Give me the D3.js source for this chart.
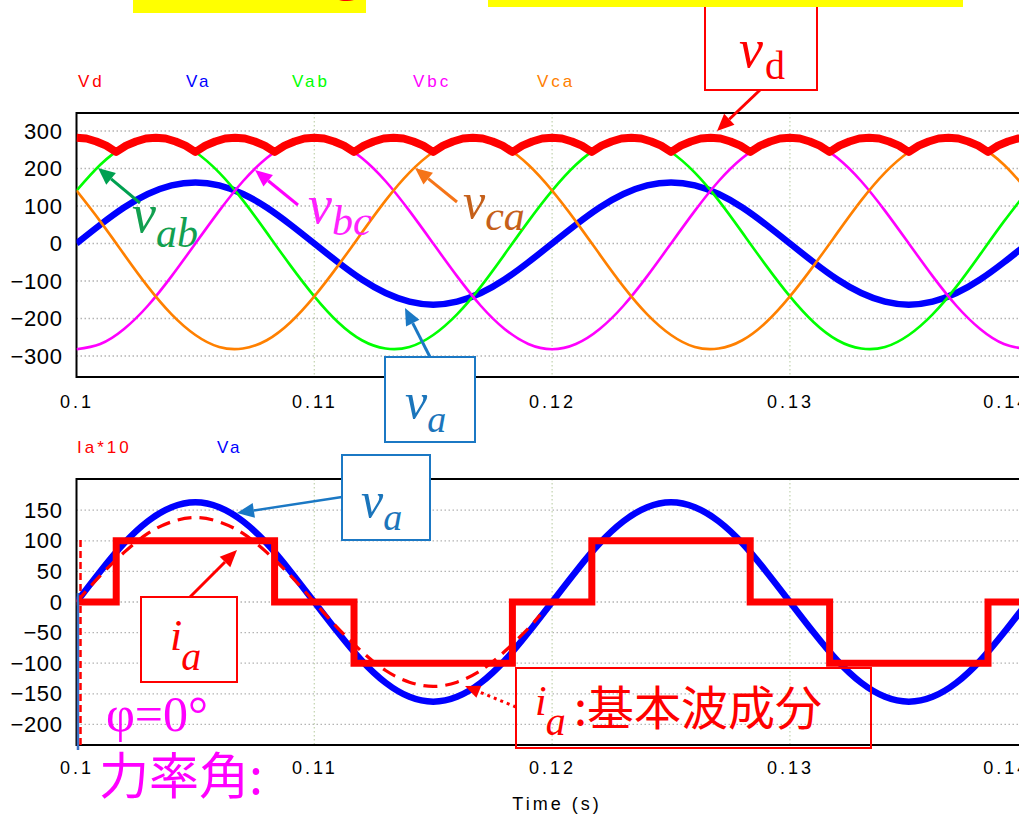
<!DOCTYPE html>
<html>
<head>
<meta charset="utf-8">
<script src="https://cdn.jsdelivr.net/npm/d3@7"></script>
<style>
  body { margin: 0; background: #fff; }
  svg { display: block; }
</style>
</head>
<body>
<svg id="chart" width="1019" height="817"></svg>
<script>
// ---------- data ----------
// 1 ms sampling grid, 0.100 s .. 0.140 s
const sampleTimes = d3.range(41).map(i => 0.1 + i * 0.001);

// phase voltage Va [V]
const vaValues = [0, 50, 96, 132, 155, 163, 155, 132, 96, 50,
                  0, -50, -96, -132, -155, -163, -155, -132, -96, -50,
                  0, 50, 96, 132, 155, 163, 155, 132, 96, 50,
                  0, -50, -96, -132, -155, -163, -155, -132, -96, -50, 0];
// line voltages [V]
const vabValues = [141, 210, 258, 280, 276, 244, 189, 115, 29, -59,
                   -141, -210, -258, -280, -276, -244, -189, -115, -29, 59,
                   141, 210, 258, 280, 276, 244, 189, 115, 29, -59,
                   -141, -210, -258, -280, -276, -244, -189, -115, -29, 59, 141];
const vbcValues = [-282, -268, -228, -166, -87, 0, 87, 166, 228, 268,
                   282, 268, 228, 166, 87, 0, -87, -166, -228, -268,
                   -282, -268, -228, -166, -87, 0, 87, 166, 228, 268,
                   282, 268, 228, 166, 87, 0, -87, -166, -228, -268, -282];
const vcaValues = [141, 59, -29, -115, -189, -244, -276, -280, -258, -210,
                   -141, -59, 29, 115, 189, 244, 276, 280, 258, 210,
                   141, 59, -29, -115, -189, -244, -276, -280, -258, -210,
                   -141, -59, 29, 115, 189, 244, 276, 280, 258, 210, 141];

// rectified DC voltage Vd, sampled every 7.5 electrical degrees
const vdTimes = d3.range(97).map(i => 0.1 + i * 0.02 / 48);
const vdValues = [
  282, 280, 272, 261, 244, 261, 272, 280,
  282, 280, 272, 261, 244, 261, 272, 280,
  282, 280, 272, 261, 244, 261, 272, 280,
  282, 280, 272, 261, 244, 261, 272, 280,
  282, 280, 272, 261, 244, 261, 272, 280,
  282, 280, 272, 261, 244, 261, 272, 280,
  282, 280, 272, 261, 244, 261, 272, 280,
  282, 280, 272, 261, 244, 261, 272, 280,
  282, 280, 272, 261, 244, 261, 272, 280,
  282, 280, 272, 261, 244, 261, 272, 280,
  282, 280, 272, 261, 244, 261, 272, 280,
  282, 280, 272, 261, 244, 261, 272, 280,
  282];

// line current Ia*10 (120-degree blocks), step changes
const iaTimes  = [0.1, 0.10167, 0.10833, 0.11167, 0.11833, 0.12167, 0.12833, 0.13167, 0.13833, 0.1415];
const iaValues = [0, 100, 0, -100, 0, 100, 0, -100, 0, 0];

// fundamental component of ia (first cycle)
const fundTimes  = [0.1, 0.101, 0.102, 0.103, 0.104, 0.105, 0.106, 0.107, 0.108, 0.109,
                    0.110, 0.111, 0.112, 0.113, 0.114, 0.115, 0.116, 0.117, 0.118, 0.119, 0.1195];
const fundValues = [0, 43, 81, 112, 131, 138, 131, 112, 81, 43,
                    0, -43, -81, -112, -131, -138, -131, -112, -81, -43, -21];

const timeTicks = [0.1, 0.11, 0.12, 0.13, 0.14];
const topTicks  = [300, 200, 100, 0, -100, -200, -300];
const botTicks  = [150, 100, 50, 0, -50, -100, -150, -200];

// ---------- layout ----------
const svg = d3.select('#chart');
svg.append('rect').attr('width', 1019).attr('height', 817).attr('fill', '#fff');

const X0 = 76.5, X1 = 1063.4;
const topBox = {y0: 113, y1: 377};
const botBox = {y0: 479, y1: 745};

const xTop = d3.scaleLinear().domain([0.1, 0.1415]).range([X0, X1]);
const xBot = d3.scaleLinear().domain([0.1, 0.1415]).range([X0, X1]);
const yTop = d3.scaleLinear().domain([-356, 348]).range([topBox.y1, topBox.y0]);
const yBot = d3.scaleLinear().domain([-233.7, 201]).range([botBox.y1, botBox.y0]);

const defs = svg.append('defs');
defs.append('clipPath').attr('id', 'clipTop').append('rect')
  .attr('x', X0).attr('y', topBox.y0).attr('width', X1 - X0).attr('height', topBox.y1 - topBox.y0);
defs.append('clipPath').attr('id', 'clipBot').append('rect')
  .attr('x', X0).attr('y', botBox.y0).attr('width', X1 - X0).attr('height', botBox.y1 - botBox.y0);

const sans = "'Liberation Sans', Arial, sans-serif";
const serif = "'Liberation Serif', 'Times New Roman', serif";
const cjk = "'Noto Sans CJK JP', 'Noto Sans CJK SC', sans-serif";

function panel(x, y, box, yTicks, clipId, labelPad) {
  const g = svg.append('g');
  // horizontal dotted grid
  g.selectAll('line.hg').data(yTicks).join('line')
    .attr('x1', X0).attr('x2', X1).attr('y1', d => y(d)).attr('y2', d => y(d))
    .attr('stroke', '#b4b4b4').attr('stroke-width', 1.3).attr('stroke-dasharray', '1.5,2.5');
  // vertical dotted grid
  g.selectAll('line.vg').data(timeTicks.slice(1)).join('line')
    .attr('x1', d => x(d)).attr('x2', d => x(d)).attr('y1', box.y0).attr('y2', box.y1)
    .attr('stroke', '#c6d6b4').attr('stroke-width', 1.3).attr('stroke-dasharray', '1.5,2.5');
  // frame
  g.append('rect').attr('x', X0).attr('y', box.y0).attr('width', X1 - X0).attr('height', box.y1 - box.y0)
    .attr('fill', 'none').attr('stroke', '#000').attr('stroke-width', 2);

  const ya = svg.append('g').attr('transform', `translate(${X0},0)`)
    .call(d3.axisLeft(y).tickValues(yTicks).tickSize(0).tickPadding(14));
  ya.select('.domain').remove();
  ya.selectAll('text').attr('font-family', sans).attr('font-size', 22).attr('fill', '#000')
    .attr('letter-spacing', '0.6px');

  const xa = svg.append('g').attr('transform', `translate(0,${box.y1})`)
    .call(d3.axisBottom(x).tickValues(timeTicks).tickSize(0).tickPadding(labelPad)
      .tickFormat(d => String(+d.toFixed(2))));
  xa.select('.domain').remove();
  xa.selectAll('text').attr('font-family', sans).attr('font-size', 18).attr('fill', '#000')
    .attr('letter-spacing', '3px');
  // the last label sits flush against the plot's right end
  xa.selectAll('.tick').filter(d => d === 0.14).select('text')
    .attr('text-anchor', 'end').attr('x', 2);

  return svg.append('g').attr('clip-path', `url(#${clipId})`);
}

// ---------- top panel: voltages ----------
const pTop = panel(xTop, yTop, topBox, topTicks, 'clipTop', 18);
const lineTop = (ts, vs, curve) => d3.line()
  .x((d, i) => xTop(ts[i])).y(d => yTop(d)).curve(curve)(vs);

pTop.append('path').attr('d', lineTop(sampleTimes, vaValues, d3.curveNatural))
  .attr('fill', 'none').attr('stroke', '#0000ff').attr('stroke-width', 6.5);
pTop.append('path').attr('d', lineTop(sampleTimes, vabValues, d3.curveNatural))
  .attr('fill', 'none').attr('stroke', '#00ff00').attr('stroke-width', 2.6);
pTop.append('path').attr('d', lineTop(sampleTimes, vbcValues, d3.curveNatural))
  .attr('fill', 'none').attr('stroke', '#ff00ff').attr('stroke-width', 2.6);
pTop.append('path').attr('d', lineTop(sampleTimes, vcaValues, d3.curveNatural))
  .attr('fill', 'none').attr('stroke', '#ff8000').attr('stroke-width', 2.6);
pTop.append('path').attr('d', lineTop(vdTimes, vdValues, d3.curveLinear))
  .attr('fill', 'none').attr('stroke', '#ff0000').attr('stroke-width', 8).attr('stroke-linejoin', 'round');

// top legend
const topLegend = [
  {name: 'Vd', color: '#ff0000', x: 78},
  {name: 'Va', color: '#0000ff', x: 186},
  {name: 'Vab', color: '#00ff00', x: 292},
  {name: 'Vbc', color: '#ff00ff', x: 413},
  {name: 'Vca', color: '#ff8000', x: 537}
];
svg.selectAll('text.lgTop').data(topLegend).join('text')
  .attr('x', d => d.x).attr('y', 87).text(d => d.name)
  .attr('fill', d => d.color).attr('font-family', sans).attr('font-size', 17)
  .attr('letter-spacing', '3px');

// ---------- bottom panel: current and phase voltage ----------
const pBot = panel(xBot, yBot, botBox, botTicks, 'clipBot', 16);
const lineBot = (ts, vs, curve) => d3.line()
  .x((d, i) => xBot(ts[i])).y(d => yBot(d)).curve(curve)(vs);

pBot.append('path').attr('d', lineBot(sampleTimes, vaValues, d3.curveNatural))
  .attr('fill', 'none').attr('stroke', '#0000ff').attr('stroke-width', 6.5);
pBot.append('path').attr('d', lineBot(iaTimes, iaValues, d3.curveStepAfter))
  .attr('fill', 'none').attr('stroke', '#ff0000').attr('stroke-width', 7).attr('stroke-linejoin', 'miter');
pBot.append('path').attr('d', lineBot(fundTimes, fundValues, d3.curveNatural))
  .attr('fill', 'none').attr('stroke', '#ff0000').attr('stroke-width', 3.2)
  .attr('stroke-dasharray', '14,8');

const botLegend = [
  {name: 'Ia*10', color: '#ff0000', x: 77},
  {name: 'Va', color: '#0000ff', x: 217}
];
svg.selectAll('text.lgBot').data(botLegend).join('text')
  .attr('x', d => d.x).attr('y', 453).text(d => d.name)
  .attr('fill', d => d.color).attr('font-family', sans).attr('font-size', 17)
  .attr('letter-spacing', '3px');

svg.append('text').attr('x', 557).attr('y', 810).attr('text-anchor', 'middle')
  .attr('font-family', sans).attr('font-size', 18).attr('letter-spacing', '3px')
  .text('Time (s)');

// phase-angle markers at t = 0.1
svg.append('line').attr('x1', 78).attr('x2', 78).attr('y1', 593).attr('y2', 750)
  .attr('stroke', '#3a6fc4').attr('stroke-width', 2.5);
svg.append('line').attr('x1', 80.5).attr('x2', 80.5).attr('y1', 540).attr('y2', 745)
  .attr('stroke', '#ff0000').attr('stroke-width', 2.5).attr('stroke-dasharray', '7,4');

// ---------- annotations ----------
function arrow(x1, y1, x2, y2, color, opts = {}) {
  const w = opts.width || 3, hl = opts.head || 17, hw = opts.headW || 14;
  const ang = Math.atan2(y2 - y1, x2 - x1);
  const bx = x2 - hl * Math.cos(ang), by = y2 - hl * Math.sin(ang);
  svg.append('line').attr('x1', x1).attr('y1', y1).attr('x2', bx).attr('y2', by)
    .attr('stroke', color).attr('stroke-width', w)
    .attr('stroke-dasharray', opts.dash || null);
  const px = -Math.sin(ang) * hw / 2, py = Math.cos(ang) * hw / 2;
  svg.append('path')
    .attr('d', `M${x2},${y2}L${bx + px},${by + py}L${bx - px},${by - py}Z`)
    .attr('fill', color);
}

function symbol(x, y, main, sub, color, o = {}) {
  const t = svg.append('text').attr('x', x).attr('y', y).attr('fill', color)
    .attr('font-family', serif);
  t.append('tspan').attr('font-style', 'italic').attr('font-size', o.mainSize || 52).text(main);
  t.append('tspan').attr('font-style', o.subUpright ? 'normal' : 'italic')
    .attr('font-size', o.subSize || 40).attr('dy', o.subDy || 14)
    .attr('dx', o.subDx || 0).text(sub);
  return t;
}

// title banners
svg.append('rect').attr('x', 133).attr('y', 0).attr('width', 233).attr('height', 13).attr('fill', '#ffff00');
svg.append('text').attr('x', 349).attr('y', -9).attr('text-anchor', 'middle')
  .attr('font-family', "'DejaVu Sans', sans-serif").attr('font-weight', 'bold')
  .attr('font-size', 46).attr('fill', '#ff0000').text('g');

// vd label
svg.append('rect').attr('x', 705).attr('y', 6).attr('width', 112).attr('height', 84)
  .attr('fill', '#fff').attr('stroke', '#ff0000').attr('stroke-width', 2);
svg.append('rect').attr('x', 488).attr('y', 0).attr('width', 475).attr('height', 7).attr('fill', '#ffff00');
symbol(739, 67, 'v', 'd', '#ff0000', {mainSize: 54, subSize: 40, subDy: 12, subUpright: true, subDx: 2});
arrow(760, 90, 717, 131, '#ff0000', {width: 3, head: 17, headW: 15});

// line-voltage labels
arrow(140, 203, 98, 168, '#00a050', {width: 3, head: 17, headW: 15});
symbol(132, 232, 'v', 'ab', '#12a050', {mainSize: 54, subSize: 42, subDy: 15});

arrow(298, 205, 255, 170, '#ff00ff', {width: 3, head: 17, headW: 15});
symbol(308, 223, 'v', 'bc', '#ff22ff', {mainSize: 54, subSize: 42, subDy: 12});

arrow(457, 202, 415, 168, '#f57418', {width: 3, head: 17, headW: 15});
symbol(463, 218, 'v', 'ca', '#c5601a', {mainSize: 50, subSize: 42, subDy: 12});

// va label (top panel)
arrow(430, 357, 405, 308, '#1b78c4', {width: 3, head: 17, headW: 15});
svg.append('rect').attr('x', 385).attr('y', 357).attr('width', 90).attr('height', 85)
  .attr('fill', '#fff').attr('stroke', '#1b78c4').attr('stroke-width', 2);
symbol(405, 418, 'v', 'a', '#1b75bb', {mainSize: 50, subSize: 38, subDy: 14});

// va label (bottom panel)
arrow(342, 497, 237, 513, '#1b78c4', {width: 2.5, head: 17, headW: 15});
svg.append('rect').attr('x', 342).attr('y', 455).attr('width', 88).attr('height', 85)
  .attr('fill', '#fff').attr('stroke', '#1b78c4').attr('stroke-width', 2);
symbol(361, 517, 'v', 'a', '#1b75bb', {mainSize: 50, subSize: 38, subDy: 13});

// ia label
arrow(190, 597, 237, 550, '#ff0000', {width: 3, head: 17, headW: 15});
svg.append('rect').attr('x', 141).attr('y', 597).attr('width', 96).attr('height', 85)
  .attr('fill', '#fff').attr('stroke', '#ff0000').attr('stroke-width', 2);
symbol(170, 650, 'i', 'a', '#ff0000', {mainSize: 44, subSize: 40, subDy: 20, subDx: -1});

// fundamental component label
arrow(516, 707, 465, 686, '#ff0000', {width: 3, head: 15, headW: 13, dash: '3,4'});
svg.append('rect').attr('x', 516).attr('y', 668).attr('width', 355).attr('height', 80)
  .attr('fill', 'none').attr('stroke', '#ff0000').attr('stroke-width', 2);
symbol(535, 715, 'i', 'a', '#ff0000', {mainSize: 42, subSize: 40, subDy: 20, subDx: -1});
svg.append('text').attr('x', 574).attr('y', 725).attr('fill', '#ff0000')
  .attr('font-family', cjk).attr('font-size', 47).text(':基本波成分');

// power-factor angle
svg.append('text').attr('x', 106).attr('y', 731).attr('fill', '#ff00ff')
  .attr('font-family', serif).attr('font-size', 50).text('φ=0°');
svg.append('text').attr('x', 99).attr('y', 794).attr('fill', '#ff00ff')
  .attr('font-family', cjk).attr('font-size', 50).text('力率角:');
</script>
</body>
</html>
